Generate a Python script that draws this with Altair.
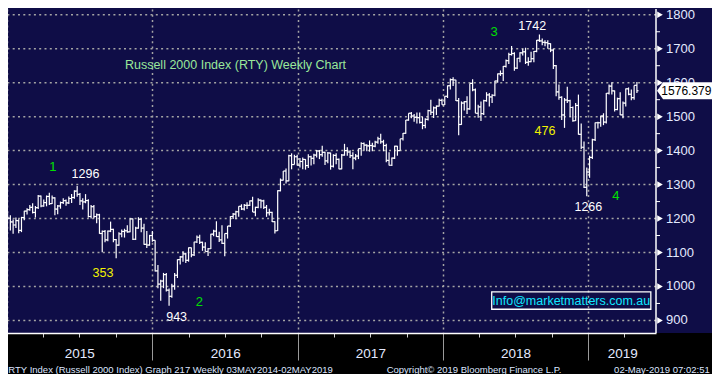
import altair as alt
import pandas as pd

# ---------------- data (weekly OHLC) ----------------
first_week = "2014-12-19"
opens = [1160, 1196, 1207, 1201, 1190, 1181, 1194, 1165, 1203, 1222, 1226, 1233, 1218, 1232, 1266, 1237, 1247, 1265, 1244, 1261,
         1228, 1237, 1247, 1253, 1246, 1259, 1262, 1281, 1271, 1252, 1249, 1253, 1206, 1235, 1206, 1211, 1156, 1162, 1137, 1163,
         1168, 1138, 1122, 1155, 1162, 1164, 1161, 1199, 1139, 1172, 1198, 1172, 1124, 1122, 1150, 1136, 1046, 1007, 1016, 1035,
         989, 971, 1001, 1033, 1079, 1087, 1096, 1077, 1114, 1093, 1131, 1145, 1130, 1116, 1103, 1111, 1154, 1163, 1147, 1137,
         1127, 1156, 1178, 1206, 1213, 1220, 1236, 1228, 1239, 1239, 1252, 1219, 1233, 1254, 1252, 1233, 1217, 1218, 1191, 1164,
         1282, 1313, 1340, 1311, 1385, 1359, 1382, 1357, 1368, 1374, 1356, 1382, 1377, 1387, 1399, 1388, 1395, 1370, 1393, 1354,
         1386, 1374, 1346, 1387, 1400, 1396, 1385, 1378, 1384, 1406, 1421, 1416, 1414, 1415, 1413, 1425, 1435, 1426, 1415, 1371,
         1357, 1378, 1413, 1400, 1435, 1451, 1490, 1510, 1502, 1498, 1497, 1483, 1474, 1492, 1518, 1513, 1526, 1531, 1548, 1535,
         1560, 1591, 1609, 1608, 1547, 1477, 1540, 1544, 1523, 1598, 1579, 1510, 1529, 1509, 1547, 1564, 1558, 1563, 1605, 1626,
         1627, 1648, 1665, 1683, 1686, 1643, 1672, 1688, 1691, 1660, 1662, 1671, 1692, 1725, 1723, 1719, 1718, 1715, 1696, 1650,
         1573, 1557, 1505, 1549, 1547, 1527, 1488, 1533, 1448, 1410, 1292, 1337, 1380, 1432, 1482, 1482, 1502, 1484, 1569, 1590,
         1576, 1521, 1553, 1505, 1540, 1582, 1566, 1556, 1592]
highs = [1200, 1214, 1221, 1210, 1197, 1203, 1198, 1205, 1223, 1230, 1240, 1245, 1237, 1269, 1268, 1256, 1268, 1276, 1268, 1263,
         1240, 1250, 1260, 1256, 1265, 1272, 1283, 1296, 1275, 1260, 1272, 1257, 1240, 1240, 1215, 1214, 1165, 1166, 1165, 1191,
         1170, 1140, 1160, 1168, 1170, 1180, 1200, 1200, 1176, 1204, 1201, 1185, 1163, 1152, 1163, 1136, 1063, 1020, 1040, 1040,
         994, 1008, 1040, 1080, 1090, 1104, 1099, 1115, 1115, 1132, 1150, 1152, 1132, 1130, 1113, 1155, 1167, 1192, 1161, 1180,
         1156, 1178, 1207, 1216, 1223, 1236, 1242, 1243, 1248, 1253, 1264, 1235, 1260, 1256, 1255, 1240, 1229, 1220, 1192, 1283,
         1318, 1340, 1347, 1388, 1392, 1388, 1388, 1378, 1380, 1375, 1389, 1385, 1391, 1402, 1402, 1414, 1397, 1396, 1394, 1389,
         1392, 1377, 1390, 1420, 1410, 1401, 1395, 1390, 1406, 1425, 1424, 1419, 1430, 1423, 1429, 1441, 1450, 1432, 1420, 1395,
         1380, 1414, 1414, 1435, 1452, 1490, 1510, 1514, 1508, 1512, 1512, 1500, 1495, 1520, 1550, 1530, 1533, 1553, 1553, 1560,
         1592, 1612, 1616, 1609, 1555, 1545, 1546, 1560, 1598, 1610, 1583, 1535, 1545, 1550, 1572, 1570, 1566, 1606, 1627, 1636,
         1649, 1668, 1688, 1708, 1690, 1673, 1690, 1700, 1703, 1675, 1691, 1693, 1726, 1742, 1730, 1725, 1725, 1716, 1700, 1652,
         1595, 1560, 1555, 1588, 1550, 1530, 1540, 1565, 1480, 1427, 1350, 1385, 1435, 1483, 1485, 1503, 1510, 1570, 1595, 1601,
         1577, 1556, 1572, 1545, 1583, 1586, 1580, 1592, 1602]
lows = [1131, 1190, 1195, 1165, 1155, 1172, 1157, 1160, 1195, 1212, 1223, 1215, 1203, 1228, 1233, 1235, 1236, 1240, 1243, 1210,
        1213, 1229, 1243, 1238, 1243, 1246, 1258, 1264, 1240, 1227, 1245, 1203, 1200, 1201, 1186, 1155, 1101, 1130, 1133, 1160,
        1130, 1083, 1120, 1145, 1144, 1158, 1160, 1137, 1137, 1170, 1160, 1123, 1113, 1120, 1132, 1044, 995, 958, 995, 985,
        943, 967, 990, 1025, 1065, 1073, 1069, 1073, 1086, 1090, 1128, 1125, 1105, 1103, 1090, 1110, 1148, 1146, 1131, 1125,
        1089, 1141, 1175, 1199, 1198, 1205, 1225, 1224, 1228, 1237, 1219, 1207, 1230, 1230, 1228, 1205, 1209, 1190, 1156, 1163,
        1280, 1312, 1303, 1310, 1345, 1359, 1356, 1350, 1345, 1344, 1349, 1356, 1360, 1380, 1375, 1382, 1358, 1363, 1344, 1350,
        1360, 1345, 1345, 1385, 1385, 1378, 1345, 1372, 1375, 1385, 1400, 1398, 1397, 1398, 1410, 1420, 1420, 1398, 1366, 1356,
        1355, 1375, 1385, 1400, 1430, 1450, 1488, 1495, 1485, 1480, 1480, 1463, 1466, 1489, 1505, 1496, 1505, 1530, 1535, 1534,
        1555, 1580, 1590, 1546, 1445, 1476, 1518, 1508, 1520, 1575, 1510, 1497, 1487, 1505, 1544, 1530, 1540, 1560, 1600, 1620,
        1605, 1645, 1655, 1680, 1635, 1640, 1660, 1680, 1655, 1650, 1660, 1660, 1690, 1720, 1710, 1707, 1700, 1690, 1640, 1560,
        1550, 1490, 1467, 1540, 1500, 1485, 1487, 1447, 1405, 1290, 1266, 1320, 1375, 1428, 1465, 1470, 1475, 1480, 1565, 1565,
        1515, 1519, 1505, 1495, 1530, 1563, 1548, 1550, 1570]
closes = [1196, 1207, 1201, 1190, 1181, 1194, 1165, 1203, 1222, 1226, 1233, 1218, 1232, 1266, 1237, 1247, 1265, 1244, 1261, 1228,
          1237, 1247, 1253, 1246, 1259, 1262, 1281, 1271, 1252, 1249, 1253, 1206, 1235, 1206, 1211, 1156, 1162, 1137, 1163, 1168,
          1138, 1122, 1155, 1162, 1164, 1161, 1199, 1139, 1172, 1198, 1172, 1124, 1122, 1150, 1136, 1046, 1007, 1016, 1035, 989,
          971, 1001, 1033, 1079, 1087, 1096, 1077, 1114, 1093, 1131, 1145, 1130, 1116, 1103, 1111, 1154, 1163, 1147, 1137, 1127,
          1156, 1178, 1206, 1213, 1220, 1236, 1228, 1239, 1239, 1252, 1219, 1233, 1254, 1252, 1233, 1217, 1218, 1191, 1164, 1282,
          1313, 1340, 1311, 1385, 1359, 1382, 1357, 1368, 1374, 1356, 1382, 1377, 1387, 1399, 1388, 1395, 1370, 1393, 1354, 1386,
          1374, 1346, 1387, 1400, 1396, 1385, 1378, 1384, 1406, 1421, 1416, 1414, 1415, 1413, 1425, 1435, 1426, 1415, 1371, 1357,
          1378, 1413, 1400, 1435, 1451, 1490, 1510, 1502, 1498, 1497, 1483, 1474, 1492, 1518, 1513, 1526, 1531, 1548, 1535, 1560,
          1591, 1609, 1608, 1547, 1477, 1540, 1544, 1523, 1598, 1579, 1510, 1529, 1509, 1547, 1564, 1558, 1563, 1605, 1626, 1627,
          1648, 1665, 1683, 1686, 1643, 1672, 1688, 1691, 1660, 1662, 1671, 1692, 1725, 1723, 1719, 1718, 1715, 1696, 1650, 1573,
          1557, 1505, 1549, 1547, 1527, 1488, 1533, 1448, 1410, 1292, 1337, 1380, 1432, 1482, 1482, 1502, 1484, 1569, 1590, 1576,
          1521, 1553, 1505, 1540, 1582, 1566, 1556, 1592, 1576.379]

last_price_label = "1576.379"

y_major = [900, 1000, 1100, 1200, 1300, 1400, 1500, 1600, 1700, 1800]
y_minor = [950, 1050, 1150, 1250, 1350, 1450, 1550, 1650, 1750]
year_starts = ["2015-01-01", "2016-01-01", "2017-01-01", "2018-01-01", "2019-01-01"]
quarter_starts = ["2015-01-01", "2015-04-01", "2015-07-01", "2015-10-01",
                  "2016-01-01", "2016-04-01", "2016-07-01", "2016-10-01",
                  "2017-01-01", "2017-04-01", "2017-07-01", "2017-10-01",
                  "2018-01-01", "2018-04-01", "2018-07-01", "2018-10-01",
                  "2019-01-01", "2019-04-01"]
year_label_pos = ["2015-07-01", "2016-07-02", "2017-07-02", "2018-07-02", "2019-03-27"]

ann_text = ["Russell 2000 Index (RTY) Weekly Chart", "1", "1296", "353", "943", "2",
            "3", "1742", "476", "1266", "4", "Info@marketmatters.com.au"]
ann_date = ["2016-07-28", "2015-04-26", "2015-07-17", "2015-08-30", "2016-03-02", "2016-04-28",
            "2018-05-09", "2018-08-13", "2018-09-14", "2019-01-01", "2019-03-11", "2018-11-19"]
ann_value = [1652.8, 1352.7, 1330, 1038.5, 911, 953.6, 1749, 1768, 1458.3, 1233.8, 1265, 958.4]
ann_color = ["#9ae89a", "#00e000", "#ffffff", "#f2f200", "#ffffff", "#00e000",
             "#00e000", "#ffffff", "#f2f200", "#ffffff", "#00e000", "#10e8ff"]
ann_size = [12.5, 13, 12.5, 12.5, 12.5, 13, 13, 12.5, 12.5, 12.5, 13, 12.5]

footer_left = ["RTY Index (Russell 2000 Index) Graph 217  Weekly 03MAY2014-02MAY2019",
               "Copyright\u00a9 2019 Bloomberg Finance L.P."]
footer_left_date = ["2015-01-04", "2017-08-12"]
footer_right = ["02-May-2019 07:02:51"]
footer_right_date = ["2019-11-02"]
footer_value = 755.5

# ---------------- layout / style ----------------
W, H = 656, 324
X0, X1 = "2014-12-14", "2019-06-20"
Y0, Y1 = 863, 1817
NAVY = "#0f0d47"
GRID = "#a4a4a4"
LABEL = "#e4eaff"
FONT = "Liberation Sans"


def dt(s):
    y, m, d = (int(p) for p in s.split("-"))
    return alt.DateTime(year=y, month=m, date=d)


xs = alt.Scale(domain=[dt(X0), dt(X1)], nice=False)
ys = alt.Scale(domain=[Y0, Y1], nice=False, zero=False)

df = pd.DataFrame({
    "date": pd.date_range(first_week, periods=len(closes), freq="7D"),
    "open": opens, "high": highs, "low": lows, "close": closes,
})

ann = pd.DataFrame({"date": pd.to_datetime(ann_date), "v": ann_value, "t": ann_text,
                    "c": ann_color, "s": ann_size})
edge = pd.to_datetime(X1)
major = pd.DataFrame({"date": [edge] * len(y_major), "v": y_major,
                      "lbl": [str(v) for v in y_major]})
minor = pd.DataFrame({"date": [edge] * len(y_minor), "v": y_minor})
edge_df = pd.DataFrame({"date": [edge]})
band = pd.DataFrame({"x1": pd.to_datetime(["2014-10-01"]), "x2": pd.to_datetime(["2020-06-01"]),
                     "y1": [Y0], "y2": [600]})
box = pd.DataFrame({"x1": pd.to_datetime(["2018-05-03"]), "x2": pd.to_datetime(["2019-06-07"]),
                    "y1": [983.9], "y2": [932.9]})
tag = df.tail(1).assign(t=last_price_label)
fl = pd.DataFrame({"date": pd.to_datetime(footer_left_date), "v": footer_value, "t": footer_left})
fr = pd.DataFrame({"date": pd.to_datetime(footer_right_date), "v": footer_value, "t": footer_right})

x_grid_axis = alt.Axis(
    orient="bottom", values=[dt(s) for s in year_starts], grid=True, gridColor=GRID,
    gridDash=[2, 3.3], gridWidth=1.5, ticks=False, labels=False, domain=False,
    title=None, zindex=0,
)
x_tick_axis = alt.Axis(
    orient="bottom", values=[dt(s) for s in quarter_starts], grid=False, labels=False,
    ticks=True, tickWidth=1,
    tickSize={"condition": {"test": "month(datum.value) == 0", "value": 27}, "value": 4},
    tickColor={"condition": {"test": "month(datum.value) == 0", "value": "#9a9a9a"}, "value": "#d0d0d0"},
    domain=True, domainColor="white", domainWidth=1.5, title=None, zindex=1,
)
x_label_axis = alt.Axis(
    orient="bottom", values=[dt(s) for s in year_label_pos], format="%Y", grid=False,
    ticks=False, tickSize=0, domain=False, labelPadding=13, labelColor=LABEL,
    labelFont=FONT, labelFontSize=13.5, labelFlush=False, labelOverlap=False,
    title=None, zindex=1,
)


def X(field, axis=None):
    return alt.X(field, scale=xs, axis=axis)


def Y(field):
    return alt.Y(field, scale=ys, axis=None)


ygrid_layer = alt.Chart(major).mark_rule(color=GRID, strokeDash=[2, 3.3], strokeWidth=1.5).encode(
    y=Y("v:Q"),
)

band_layer = alt.Chart(band).mark_rect(color="black").encode(
    x=X("x1:T"), x2="x2:T", y=Y("y1:Q"), y2="y2:Q",
)

hl_layer = alt.Chart(df).mark_rule(color="white", strokeWidth=1.2).encode(
    x=X("date:T", x_grid_axis), y=Y("low:Q"), y2="high:Q",
)

open_layer = alt.Chart(df).mark_rule(color="white", strokeWidth=1.2, xOffset=-1.6).encode(
    x=X("date:T", x_tick_axis), x2="date:T", y=Y("open:Q"),
)

close_layer = alt.Chart(df).mark_rule(color="white", strokeWidth=1.2, x2Offset=1.6).encode(
    x=X("date:T", x_label_axis), x2="date:T", y=Y("close:Q"),
)

yline_layer = alt.Chart(edge_df).mark_rule(color="white", strokeWidth=1.5).encode(
    x=X("date:T"),
)

minor_layer = alt.Chart(minor).mark_rule(color="white", strokeWidth=1, x2Offset=4).encode(
    x=X("date:T"), x2="date:T", y=Y("v:Q"),
)

tri_layer = alt.Chart(major).mark_point(shape="triangle-right", filled=True, color="white",
                                         opacity=1, size=42, xOffset=4).encode(
    x=X("date:T"), y=Y("v:Q"),
)

ylab_layer = alt.Chart(major).mark_text(font=FONT, fontSize=13, color=LABEL, align="left",
                                         baseline="middle", dx=10).encode(
    x=X("date:T"), y=Y("v:Q"), text="lbl:N",
)

ann_layer = alt.Chart(ann).mark_text(font=FONT, align="center", baseline="middle").encode(
    x=X("date:T"), y=Y("v:Q"),
    text="t:N", color=alt.Color("c:N", scale=None), size=alt.Size("s:Q", scale=None),
)

box_layer = alt.Chart(box).mark_rect(fillOpacity=0, stroke="white", strokeWidth=1.3).encode(
    x=X("x1:T"), x2="x2:T", y=Y("y1:Q"), y2="y2:Q",
)

tag_shape = "M -1 0 L -0.78 -0.31 L 1 -0.31 L 1 0.31 L -0.78 0.31 Z"
tag_box = alt.Chart(tag).mark_point(shape=tag_shape, filled=True, color="white", opacity=1,
                                     size=3025, xOffset=47.6).encode(
    x=X("date:T"), y=Y("close:Q"),
)
tag_text = alt.Chart(tag).mark_text(font=FONT, fontSize=12, color="black", align="center",
                                     baseline="middle", dx=49.5).encode(
    x=X("date:T"), y=Y("close:Q"), text="t:N",
)

fl_layer = alt.Chart(fl).mark_text(font=FONT, fontSize=9.5, color="#dde5ff", align="left",
                                    baseline="middle").encode(
    x=X("date:T"), y=Y("v:Q"), text="t:N",
)
fr_layer = alt.Chart(fr).mark_text(font=FONT, fontSize=9.5, color="#dde5ff", align="right",
                                    baseline="middle").encode(
    x=X("date:T"), y=Y("v:Q"), text="t:N",
)

chart = alt.layer(
    ygrid_layer, band_layer, hl_layer, open_layer, close_layer, yline_layer, minor_layer,
    tri_layer, ylab_layer, ann_layer, box_layer, tag_box, tag_text, fl_layer, fr_layer,
).resolve_scale(x="independent").properties(
    width=W, height=H, background=NAVY,
    autosize=alt.AutoSizeParams(type="none"),
    padding={"left": -8, "top": 1, "right": 56, "bottom": 41},
).configure_view(fill=NAVY, strokeWidth=0)

chart.save("out.html", embed_options={"renderer": "svg", "actions": False})
